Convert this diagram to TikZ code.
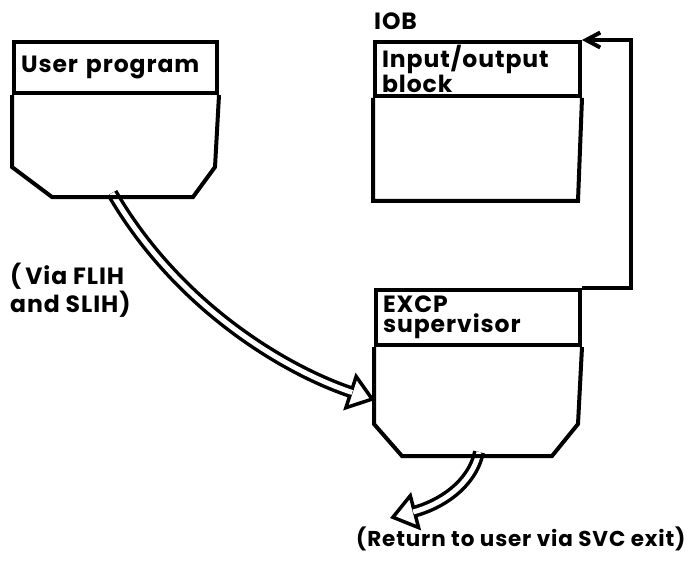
\documentclass[tikz,border=0pt]{standalone}
\usepackage{fontspec}
\setmainfont{Poppins}[LetterSpace=4]
\usetikzlibrary{arrows.meta,positioning}

\begin{document}
\begin{tikzpicture}
[x=1pt, y=-1pt,
lettering/.style={font=\bfseries\fontsize{23.5}{20}\selectfont},
headbox/.style={lettering, draw=black, line width=4pt, rectangle, anchor=north west, text width=#1, minimum height=51pt, inner xsep=7pt, align=left},
note/.style={lettering, inner sep=0pt, align=left},
outline/.style={line width=4pt, line join=miter},
hollow/.style={line width=3.5pt, double=white, double distance=5pt},
headtip/.style={line width=3.5pt, -{Triangle[length=27pt, width=39pt, fill=white, line join=miter]}},
feedback/.style={line width=4pt, -{Straight Barb[length=14pt, width=15pt]}}]

    \useasboundingbox (0,0) rectangle (693,574);

    \node (user) [headbox=189pt] at (12,40) {User program};
    \node (iob) [headbox=191pt] at (373,40) {Input/output\\block};
    \node (excp) [headbox=190pt, minimum height=55pt] at (374,288) {EXCP\\supervisor};

    \node (ioblabel) [note, anchor=base west] at (374,29) {IOB};
    \node (via) [note, anchor=north west] at (10,263) {(\,Via FLIH\\and SLIH)};
    \node (ret) [note, anchor=base west, font=\bfseries\fontsize{21.5}{20}\selectfont] at (356,546) {(Return to user via SVC exit)};

    \coordinate (userout) at (112,193);
    \coordinate (excpin) at (375,400);
    \coordinate (excpout) at (479,452);
    \coordinate (retin) at (390,518);

    % hollow arrows
    \draw[headtip] (userout) .. controls (180,310) and (290,372) .. (excpin);
    \draw[hollow, shorten >=24pt] (userout) .. controls (180,310) and (290,372) .. (excpin);
    \draw[headtip] (excpout) .. controls (472,485) and (440,505) .. (retin);
    \draw[hollow, shorten >=24pt] (excpout) .. controls (472,485) and (440,505) .. (retin);

    % box bodies
    \draw[outline] (user.south west) -- ++(0,72) -- ++(40,30) -- ++(141,0) -- ++(22,-30) -- (user.south east);
    \draw[outline] (iob.south west) -- ++(0,103) -- ++(205,0) -- (iob.south east);
    \draw[outline] (excp.south west) -- ++(0,77) -- ++(28,32) -- ++(150,0) -- ++(26,-32) -- (excp.south east);

    \draw[feedback] (excp.north east) -- ++(49,0) |- (iob.north east);
\end{tikzpicture}
\end{document}
